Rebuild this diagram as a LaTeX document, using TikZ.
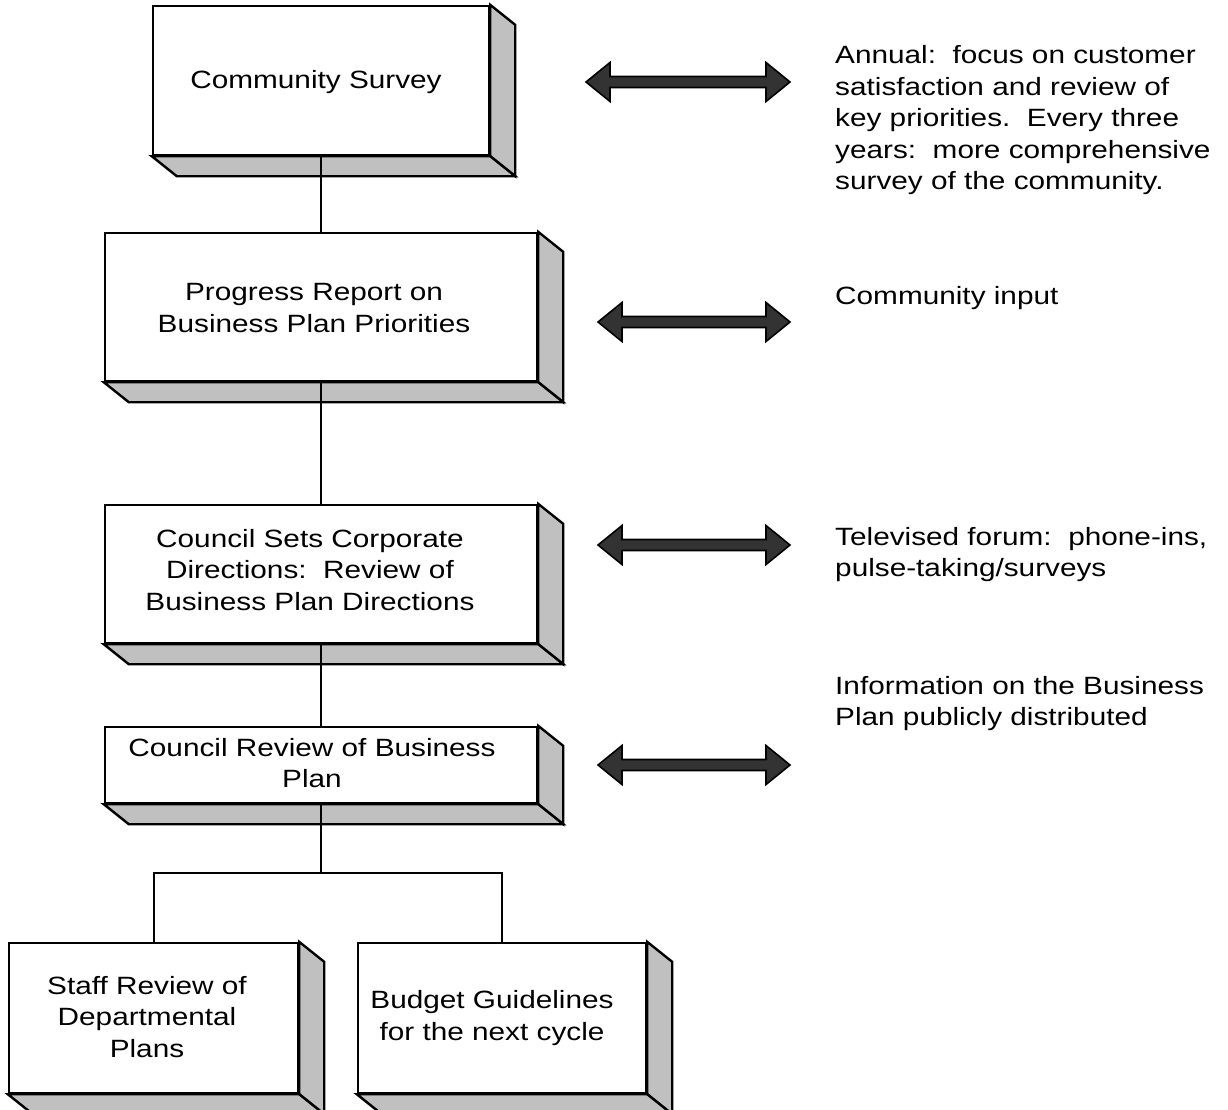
\documentclass[tikz,border=0pt]{standalone}
\usepackage{fontspec}
\setmainfont{Liberation Sans}[FakeStretch=1.19]
\begin{document}
\definecolor{bevelgray}{HTML}{C0C0C0}
\definecolor{arrowfill}{HTML}{333333}
% A box whose front face is the node; the bevel goes 25 right and 20 down.
\newcommand\bevel[1]{%
  \filldraw[bevelside] (#1.north east) -- ++(25,20) -- ($(#1.south east)+(25,20)$) -- (#1.south east) -- cycle;
  \filldraw[bevelside] (#1.south west) -- (#1.south east) -- ++(25,20) -- ($(#1.south west)+(25,20)$) -- cycle;
}
% Broad two-headed arrow from x=#1 to x=#2 at height #3
\newcommand\twoway[3]{%
  \filldraw[bigarrow] (#1,#3) -- (#1+24,#3-19.5) -- (#1+24,#3-5.5) -- (#2-24,#3-5.5) -- (#2-24,#3-19.5)
    -- (#2,#3) -- (#2-24,#3+19.5) -- (#2-24,#3+5.5) -- (#1+24,#3+5.5) -- (#1+24,#3+19.5) -- cycle;
}
\begin{tikzpicture}[x=1pt,y=-1pt,
  every node/.style={font=\fontsize{25}{31.5}\selectfont},
  face/.style={draw, line width=2.4pt, fill=white, inner sep=0pt},
  bevelside/.style={fill=bevelgray, draw=black, line width=2.4pt, line join=miter},
  bigarrow/.style={fill=arrowfill, draw=black, line width=1.6pt, line join=miter},
  boxtext/.style={align=center, inner sep=0pt},
  note/.style={align=left, anchor=west, inner sep=0pt},
  link/.style={line width=2pt}]
\useasboundingbox (0,0) rectangle (1228,1109);
\usetikzlibrary{calc}

% front faces of the process boxes
\node[face, minimum width=336pt, minimum height=149pt] (b1) at (321,80.5) {};
\node[face, minimum width=432pt, minimum height=148pt] (b2) at (321,307) {};
\node[face, minimum width=432pt, minimum height=138pt] (b3) at (321,574) {};
\node[face, minimum width=432pt, minimum height=76pt] (b4) at (321,765) {};
\node[face, minimum width=289pt, minimum height=150pt] (b5) at (153.5,1018) {};
\node[face, minimum width=288pt, minimum height=150pt] (b6) at (502,1018) {};

\foreach \b in {b1,b2,b3,b4,b5,b6} {\bevel{\b}}

% flow connectors
\coordinate (split) at (321,873);
\draw[link] (b1.south) -- (b2.north);
\draw[link] (b2.south) -- (b3.north);
\draw[link] (b3.south) -- (b4.north);
\draw[link] (b4.south) -- (split);
\draw[link] (b5.north) |- (split) -| (b6.north);

% box captions
\node[boxtext] (t1) at (316,82) {Community Survey};
\node[boxtext] (t2) at (314,308) {Progress Report on\\Business Plan Priorities};
\node[boxtext] (t3) at (310,570) {Council Sets Corporate\\Directions:\ \ Review of\\Business Plan Directions};
\node[boxtext] (t4) at (312,763) {Council Review of Business\\Plan};
\node[boxtext] (t5) at (147,1017) {Staff Review of\\Departmental\\Plans};
\node[boxtext] (t6) at (492,1018) {Budget Guidelines\\for the next cycle};

% two-way arrows
\twoway{586}{790}{82}
\twoway{598}{790}{322}
\twoway{598}{790}{545}
\twoway{598}{790}{765}

% notes on the right
\node[note] (n1) at (835,120.5) {Annual:\ \ focus on customer\\satisfaction and review of\\key priorities.\ \ Every three\\years:\ \ more comprehensive\\survey of the community.};
\node[note] (n2) at (835,298) {Community input};
\node[note] (n3) at (835,554.5) {Televised forum:\ \ phone-ins,\\pulse-taking/surveys};
\node[note] (n4) at (835,703.5) {Information on the Business\\Plan publicly distributed};
\end{tikzpicture}
\end{document}
